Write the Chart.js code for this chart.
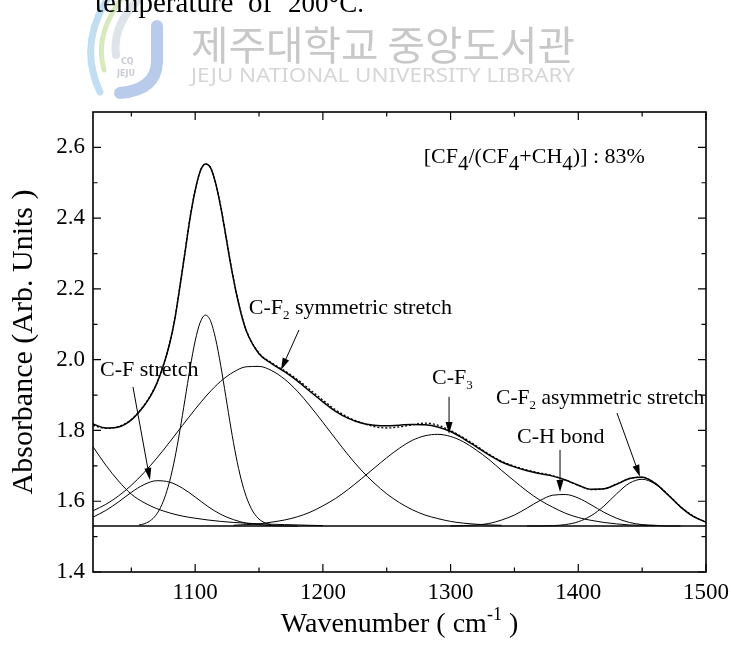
<!DOCTYPE html>
<html>
<head>
<meta charset="utf-8">
<script src="https://cdn.jsdelivr.net/npm/chart.js@4.4.0/dist/chart.umd.min.js"></script>
<style>
  body { margin: 0; background: #fff; }
  #wrap { width: 731px; height: 662px; }
</style>
</head>
<body>
<div id="wrap"><canvas id="ftirChart" width="731" height="662"></canvas></div>
<script>
// wavenumber grid of the measured spectrum and the fitted sum (cm-1)
const wnGrid = [1020, 1030, 1040, 1050, 1060, 1065, 1070, 1075, 1080,
  1084, 1088, 1092, 1096, 1100, 1104, 1108, 1112, 1116, 1120, 1124, 1128, 1132, 1136,
  1140, 1150, 1160, 1170, 1180, 1190, 1200, 1210, 1220, 1230, 1240, 1250, 1260, 1270,
  1280, 1290, 1300, 1310, 1320, 1330, 1340, 1350, 1360, 1370, 1380, 1390, 1400, 1410,
  1420, 1430, 1440, 1450, 1460, 1470, 1480, 1490, 1500];

const measured = [1.814, 1.806, 1.811, 1.831, 1.871, 1.899, 1.934, 1.984, 2.047,
  2.115, 2.207, 2.304, 2.402, 2.479, 2.533, 2.553, 2.543, 2.500, 2.434, 2.352, 2.268, 2.193, 2.131,
  2.083, 2.019, 1.991, 1.969, 1.944, 1.915, 1.886, 1.858, 1.837, 1.822, 1.811, 1.807, 1.810, 1.816,
  1.821, 1.815, 1.800, 1.780, 1.757, 1.733, 1.713, 1.699, 1.688, 1.680, 1.672, 1.660, 1.645, 1.633,
  1.635, 1.649, 1.664, 1.668, 1.651, 1.620, 1.585, 1.558, 1.541];

const fitSum = [1.818, 1.807, 1.810, 1.830, 1.870, 1.897, 1.933, 1.982, 2.045,
  2.113, 2.205, 2.302, 2.400, 2.478, 2.533, 2.553, 2.543, 2.499, 2.432, 2.350, 2.266, 2.192, 2.130,
  2.082, 2.017, 1.989, 1.966, 1.940, 1.910, 1.881, 1.854, 1.834, 1.821, 1.815, 1.813, 1.815, 1.817,
  1.816, 1.810, 1.797, 1.777, 1.754, 1.731, 1.711, 1.697, 1.686, 1.678, 1.671, 1.660, 1.645, 1.634,
  1.635, 1.648, 1.664, 1.668, 1.651, 1.619, 1.584, 1.557, 1.541];

// fitted component bands
const lowTailX = [1020, 1030, 1040, 1050, 1060, 1070, 1080, 1090, 1100, 1110, 1120, 1130, 1140, 1150, 1160, 1170, 1180, 1190, 1200];
const lowTailY = [1.754, 1.702, 1.657, 1.620, 1.596, 1.579, 1.567, 1.558, 1.552, 1.547, 1.543, 1.540, 1.538, 1.536, 1.535, 1.534, 1.533, 1.532, 1.531];

const cfStretchX = [1020, 1030, 1040, 1050, 1060, 1070, 1080, 1090, 1100, 1110, 1120, 1130, 1140, 1150, 1160, 1170, 1180];
const cfStretchY = [1.555, 1.574, 1.598, 1.625, 1.647, 1.658, 1.654, 1.637, 1.612, 1.585, 1.563, 1.548, 1.538, 1.534, 1.531, 1.530, 1.530];

const peak1108X = [1056, 1060, 1064, 1068, 1072, 1076, 1080, 1084, 1088, 1092, 1096, 1100, 1104, 1108,
  1112, 1116, 1120, 1124, 1128, 1132, 1136, 1140, 1144, 1148, 1152, 1156, 1160];
const peak1108Y = [1.533, 1.536, 1.543, 1.555, 1.576, 1.609, 1.656, 1.720, 1.799, 1.887, 1.976, 2.053, 2.106, 2.126,
  2.110, 2.059, 1.984, 1.896, 1.807, 1.727, 1.662, 1.613, 1.579, 1.557, 1.544, 1.537, 1.533];

const cf2SymX = [1020, 1030, 1040, 1050, 1060, 1070, 1080, 1090, 1100, 1110, 1120, 1130, 1140, 1150, 1160, 1170, 1180,
  1190, 1200, 1210, 1220, 1230, 1240, 1250, 1260, 1270, 1280, 1290, 1300, 1310, 1320, 1330, 1340];
const cf2SymY = [1.573, 1.591, 1.615, 1.645, 1.681, 1.722, 1.767, 1.814, 1.860, 1.903, 1.939, 1.965, 1.980, 1.981, 1.969, 1.945, 1.911,
  1.869, 1.823, 1.776, 1.730, 1.688, 1.652, 1.621, 1.596, 1.576, 1.561, 1.551, 1.543, 1.538, 1.535, 1.533, 1.532];

const cf3X = [1130, 1140, 1150, 1160, 1170, 1180, 1190, 1200, 1210, 1220, 1230, 1240, 1250, 1260, 1270, 1280, 1290,
  1300, 1310, 1320, 1330, 1340, 1350, 1360, 1370, 1380, 1390, 1400, 1410, 1420, 1430, 1440, 1450, 1460];
const cf3Y = [1.532, 1.534, 1.536, 1.541, 1.547, 1.556, 1.569, 1.587, 1.608, 1.634, 1.663, 1.693, 1.723, 1.750, 1.772, 1.785, 1.789,
  1.783, 1.768, 1.745, 1.718, 1.687, 1.657, 1.628, 1.603, 1.583, 1.566, 1.554, 1.546, 1.540, 1.536, 1.533, 1.532, 1.531];

const chBondX = [1300, 1310, 1320, 1330, 1340, 1350, 1360, 1370, 1380, 1390, 1400, 1410, 1420, 1430, 1440, 1450, 1460, 1470, 1480];
const chBondY = [1.530, 1.531, 1.533, 1.537, 1.547, 1.561, 1.581, 1.602, 1.617, 1.619, 1.609, 1.590, 1.569, 1.552, 1.540, 1.534, 1.532, 1.530, 1.530];

const cf2AsymX = [1360, 1370, 1380, 1390, 1400, 1410, 1420, 1430, 1440, 1450, 1460, 1470, 1480, 1490, 1500];
const cf2AsymY = [1.530, 1.530, 1.531, 1.534, 1.542, 1.559, 1.586, 1.621, 1.651, 1.662, 1.649, 1.618, 1.584, 1.557, 1.541];

const baselineLevel = 1.53;

// axis ticks
const xMajorTicks = [1100, 1200, 1300, 1400, 1500];
const xMinorTicks = [1050, 1150, 1250, 1350, 1450];
const yMajorTicks = [1.4, 1.6, 1.8, 2.0, 2.2, 2.4, 2.6];
const yMinorTicks = [1.5, 1.7, 1.9, 2.1, 2.3, 2.5];

const serif = "'Liberation Serif', 'Times New Roman', serif";

const toPoints = (xs, ys) => xs.map((x, i) => ({ x: x, y: ys[i] }));

const curve = (data, width, dash) => ({
  data: data,
  borderColor: '#000',
  borderWidth: width,
  borderDash: dash || [],
  pointRadius: 0,
  fill: false,
  cubicInterpolationMode: 'monotone'
});

// annotations in data coordinates
const notes = [
  { at: [1279, 2.556], parts: [['[CF', 22, 0], ['4', 21, 7], ['/(CF', 22, 0], ['4', 21, 7], ['+CH', 22, 0], ['4', 21, 7], [')] : 83%', 22, 0]] },
  { at: [1142, 2.129], parts: [['C-F', 22, 0], ['2', 13, 5], [' symmetric stretch', 22, 0]] },
  { at: [1025.5, 1.954], parts: [['C-F stretch', 22, 0]] },
  { at: [1285.5, 1.931], parts: [['C-F', 22, 0], ['3', 13, 5]] },
  { at: [1335.6, 1.875], parts: [['C-F', 21.5, 0], ['2', 13, 5], [' asymmetric stretch', 21.5, 0]] },
  { at: [1352, 1.765], parts: [['C-H bond', 22, 0]] }
];

const arrows = [
  { from: [1181.3, 2.084], to: [1167.2, 1.971] },
  { from: [1051.3, 1.923], to: [1064.6, 1.660] },
  { from: [1298.8, 1.895], to: [1298.8, 1.790] },
  { from: [1385.7, 1.745], to: [1385.7, 1.626] },
  { from: [1430.3, 1.849], to: [1448.3, 1.669] }
];

const drawParts = (ctx, parts, x, y) => {
  let cx = x;
  parts.forEach(([txt, size, dy]) => {
    ctx.font = `${size}px ${serif}`;
    ctx.fillText(txt, cx, y + dy);
    cx += ctx.measureText(txt).width;
  });
  return cx - x;
};

const partsWidth = (ctx, parts) => {
  let w = 0;
  parts.forEach(([txt, size]) => {
    ctx.font = `${size}px ${serif}`;
    w += ctx.measureText(txt).width;
  });
  return w;
};

const drawFitted = (ctx, txt, font, x, baseY, targetW) => {
  ctx.font = font;
  const w = ctx.measureText(txt).width;
  ctx.save();
  ctx.translate(x, baseY);
  ctx.scale(targetW / w, 1);
  ctx.fillText(txt, 0, 0);
  ctx.restore();
};

const pagePlugin = {
  id: 'pagePlugin',
  beforeDraw(chart) {
    const ctx = chart.ctx;
    ctx.save();
    ctx.fillStyle = '#fff';
    ctx.fillRect(0, 0, chart.width, chart.height);

    // library watermark
    ctx.lineCap = 'round';
    ctx.strokeStyle = '#c2def3';
    ctx.lineWidth = 7;
    ctx.beginPath(); ctx.moveTo(108, -2); ctx.quadraticCurveTo(78, 45, 100, 92); ctx.stroke();
    ctx.strokeStyle = '#d6eabd';
    ctx.lineWidth = 5;
    ctx.beginPath(); ctx.moveTo(122, -2); ctx.quadraticCurveTo(94, 35, 104, 70); ctx.stroke();
    ctx.strokeStyle = '#dfe3ea';
    ctx.lineWidth = 8;
    ctx.beginPath(); ctx.moveTo(140, -2); ctx.quadraticCurveTo(112, 25, 116, 55); ctx.stroke();
    ctx.strokeStyle = '#b8cbea';
    ctx.lineWidth = 12;
    ctx.beginPath(); ctx.moveTo(157, 26); ctx.lineTo(157, 62); ctx.quadraticCurveTo(156, 90, 120, 93); ctx.stroke();
    ctx.fillStyle = '#c9ccd4';
    ctx.font = "bold 8px 'DejaVu Sans'";
    ctx.fillText('CQ', 121, 64);
    ctx.fillText('JEJU', 117, 76);

    ctx.fillStyle = '#c8c8c8';
    drawFitted(ctx, '제주대학교 중앙도서관', "40px 'Noto Sans CJK KR'", 191, 60, 384);
    ctx.fillStyle = '#d6d6d6';
    drawFitted(ctx, 'JEJU NATIONAL UNIVERSITY LIBRARY', "19px 'Noto Sans'", 191, 82, 384);

    // caption cut at the top of the page
    ctx.fillStyle = '#000';
    ctx.textBaseline = 'alphabetic';
    ctx.font = `29px ${serif}`;
    ctx.fillText('temperature', 95, 12);
    ctx.fillText('of', 248, 12);
    ctx.font = `27px ${serif}`;
    ctx.fillText('200°C.', 288, 12);
    ctx.restore();
  },
  afterDraw(chart) {
    const { ctx, chartArea: a, scales: { x, y } } = chart;
    ctx.save();
    ctx.strokeStyle = '#000';
    ctx.fillStyle = '#000';

    // frame and inward ticks
    ctx.lineWidth = 1.6;
    ctx.strokeRect(a.left, a.top, a.right - a.left, a.bottom - a.top);
    ctx.lineWidth = 1.2;
    ctx.beginPath();
    const xTick = (v, len) => {
      const px = x.getPixelForValue(v);
      ctx.moveTo(px, a.bottom); ctx.lineTo(px, a.bottom - len);
      ctx.moveTo(px, a.top); ctx.lineTo(px, a.top + len);
    };
    const yTick = (v, len) => {
      const py = y.getPixelForValue(v);
      ctx.moveTo(a.left, py); ctx.lineTo(a.left + len, py);
      ctx.moveTo(a.right, py); ctx.lineTo(a.right - len, py);
    };
    xMajorTicks.forEach(v => xTick(v, 8));
    xMinorTicks.forEach(v => xTick(v, 4.5));
    yMajorTicks.forEach(v => yTick(v, 8));
    yMinorTicks.forEach(v => yTick(v, 4.5));
    ctx.stroke();

    // band labels
    ctx.textBaseline = 'alphabetic';
    notes.forEach(n => {
      drawParts(ctx, n.parts, x.getPixelForValue(n.at[0]), y.getPixelForValue(n.at[1]));
    });

    // arrows
    ctx.lineWidth = 1;
    arrows.forEach(ar => {
      const x0 = x.getPixelForValue(ar.from[0]), y0 = y.getPixelForValue(ar.from[1]);
      const x1 = x.getPixelForValue(ar.to[0]), y1 = y.getPixelForValue(ar.to[1]);
      const ang = Math.atan2(y1 - y0, x1 - x0);
      const hl = 12, hw = 3.5;
      const bx = x1 - hl * Math.cos(ang), by = y1 - hl * Math.sin(ang);
      ctx.beginPath();
      ctx.moveTo(x0, y0); ctx.lineTo(bx, by);
      ctx.stroke();
      ctx.beginPath();
      ctx.moveTo(x1, y1);
      ctx.lineTo(bx + hw * Math.sin(ang), by - hw * Math.cos(ang));
      ctx.lineTo(bx - hw * Math.sin(ang), by + hw * Math.cos(ang));
      ctx.closePath();
      ctx.fill();
    });

    // axis titles
    ctx.save();
    ctx.translate(24, (a.top + a.bottom) / 2);
    ctx.rotate(-Math.PI / 2);
    ctx.textAlign = 'center';
    ctx.textBaseline = 'middle';
    ctx.font = `30px ${serif}`;
    ctx.fillText('Absorbance (Arb. Units )', 0, 0);
    ctx.restore();

    const xTitle = [['Wavenumber ( cm', 28, 0], ['-1', 18, -12], [' )', 28, 0]];
    const tw = partsWidth(ctx, xTitle);
    ctx.textAlign = 'left';
    drawParts(ctx, xTitle, (a.left + a.right) / 2 - tw / 2, 632);
    ctx.restore();
  }
};

const ctx1 = document.getElementById('ftirChart');

new Chart(ctx1, {
  type: 'line',
  data: {
    datasets: [
      curve(toPoints(wnGrid, fitSum), 1.5),
      curve(toPoints(wnGrid, measured), 1.3, [2, 2]),
      curve(toPoints(lowTailX, lowTailY), 1),
      curve(toPoints(cfStretchX, cfStretchY), 1),
      curve(toPoints(peak1108X, peak1108Y), 1),
      curve(toPoints(cf2SymX, cf2SymY), 1),
      curve(toPoints(cf3X, cf3Y), 1),
      curve(toPoints(chBondX, chBondY), 1),
      curve(toPoints(cf2AsymX, cf2AsymY), 1),
      curve([{ x: 1020, y: baselineLevel }, { x: 1500, y: baselineLevel }], 1.4)
    ]
  },
  options: {
    responsive: false,
    animation: false,
    events: [],
    layout: { padding: { top: 112, right: 25, left: 0, bottom: 0 } },
    plugins: { legend: { display: false }, tooltip: { enabled: false } },
    scales: {
      x: {
        type: 'linear',
        min: 1020,
        max: 1500,
        afterBuildTicks: s => { s.ticks = xMajorTicks.map(v => ({ value: v })); },
        afterFit: s => { s.height = 90; s.paddingLeft = 0; s.paddingRight = 0; },
        grid: { display: false, drawTicks: false },
        border: { display: false },
        ticks: {
          padding: 7,
          color: '#000',
          autoSkip: false,
          maxRotation: 0,
          font: { family: serif, size: 23 },
          callback: v => String(v)
        }
      },
      y: {
        type: 'linear',
        min: 1.4,
        max: 2.7,
        afterBuildTicks: s => { s.ticks = yMajorTicks.map(v => ({ value: v })); },
        afterFit: s => { s.width = 93; s.paddingTop = 0; s.paddingBottom = 0; },
        grid: { display: false, drawTicks: false },
        border: { display: false },
        ticks: {
          padding: 8,
          color: '#000',
          autoSkip: false,
          font: { family: serif, size: 23 },
          callback: v => v.toFixed(1)
        }
      }
    }
  },
  plugins: [pagePlugin]
});
</script>
</body>
</html>
